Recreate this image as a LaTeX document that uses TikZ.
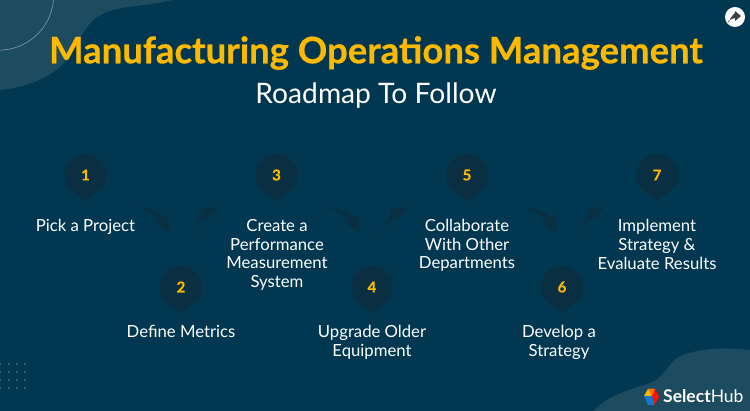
\documentclass[tikz,border=0pt]{standalone}
\usepackage{fontspec}
\setmainfont{Lato}
\newfontfamily\titlefont[BoldFeatures={FakeBold=0.5}]{Lato}
\usetikzlibrary{calc}

\definecolor{bgblue}{HTML}{013750}
\definecolor{blobblue}{HTML}{1D4B60}
\definecolor{pindark}{HTML}{0A2F42}
\definecolor{titleyellow}{HTML}{FDB900}
\definecolor{swooshdark}{HTML}{0A2F42}

\tikzset{
    pinmark/.style={circle, fill=pindark, minimum size=42pt, inner sep=0pt, text=titleyellow, font=\fontsize{15}{15}\titlefont\bfseries},
    steptext/.style={text=white, align=center, inner sep=0pt, font=\fontsize{16.7}{18.6}\selectfont},
    swoosh/.style={fill=swooshdark}
}

\newcommand{\swooshdown}[2]{
    \fill[swoosh] (#1) .. controls +(11,1) and +(-6,-5) .. ($(#2)+(-5,-15)$) -- ($(#2)+(-2,-18)$) -- (#2) -- ($(#2)+(-15,-10)$) -- ($(#2)+(-10,-10)$) .. controls +(-4,-7) and +(8,3) .. (#1) -- cycle;
}
\newcommand{\swooshup}[2]{
    \fill[swoosh] (#1) .. controls +(0,-10) and +(-5,6) .. ($(#2)+(-15,7)$) -- ($(#2)+(-17,2)$) -- (#2) -- ($(#2)+(-9,13)$) -- ($(#2)+(-11,10)$) .. controls +(-7,5) and +(-3,-10) .. (#1) -- cycle;
}

\begin{document}
\begin{tikzpicture}[x=1pt, y=-1pt]
    \useasboundingbox (0,0) rectangle (750,411);
    \fill[bgblue] (0,0) rectangle (750,411);

    % background blobs
    \fill[blobblue] (0,0) -- (172,0) .. controls (150,6) and (120,6) .. (107,12) .. controls (92,18) and (88,26) .. (83,33) .. controls (75,45) and (70,58) .. (60,67) .. controls (45,80) and (22,88) .. (0,90) -- cycle;
    \fill[blobblue] (593,411) .. controls (600,405) and (605,400) .. (612,397) .. controls (622,392) and (635,388) .. (650,383) .. controls (662,379) and (668,365) .. (677,358) .. controls (690,350) and (720,346) .. (750,350) -- (750,411) -- cycle;
    \draw[color=blobblue!60!white, line width=0.7pt] (53.5,0) arc[start angle=5, end angle=90, radius=55];

    \foreach \x in {0,9,17,25} \foreach \y in {364,372,380,388}
        \fill[blobblue!90!white] (\x-1,\y-1) rectangle (\x+1,\y+1);

    % title
    \node[text=titleyellow, font=\fontsize{36.5}{37}\titlefont\bfseries] (title) at (376,53) {Manufacturing Operations Management};
    \node[text=white, font=\fontsize{28.2}{28}\selectfont] (subtitle) at (376,96) {Roadmap To Follow};

    % share icon
    \node[circle, fill=white, minimum size=20pt, inner sep=0pt] (share) at (735,17) {};
    \fill[black!75] ($(share)+(-6,5)$) .. controls +(1,-5) and +(3,-6) .. ($(share)+(0,-2)$) -- ($(share)+(0,-6)$) -- ($(share)+(6,-1)$) -- ($(share)+(0,4)$) -- ($(share)+(0,1)$) .. controls +(-3,0) and +(-4,1) .. ($(share)+(-6,5)$) -- cycle;

    % steps
    \foreach \n/\x/\y in {1/85.5/175,2/181/287,3/276.5/175,4/372/287,5/467/175,6/562/287,7/657/175} {
        \fill[pindark] (\x-9,\y+18) -- (\x,\y+27) -- (\x+9,\y+18) -- cycle;
        \node[pinmark] (pin\n) at (\x,\y) {\n};
    }

    \node[steptext] (text1) at (85.5,227) {Pick a Project};
    \node[steptext] (text2) at (181,331) {Define Metrics};
    \node[steptext] (text3) at (277,255) {Create a\\Performance\\Measurement\\System};
    \node[steptext] (text4) at (372,342.5) {Upgrade Older\\Equipment};
    \node[steptext] (text5) at (467,245.5) {Collaborate\\With Other\\Departments};
    \node[steptext] (text6) at (559,342.5) {Develop a\\Strategy};
    \node[steptext] (text7) at (657,244.5) {Implement\\Strategy \&\\Evaluate Results};

    % arrows between steps
    \coordinate (a12) at (138,207);
    \coordinate (b12) at (170,233);
    \coordinate (a23) at (192,240);
    \coordinate (b23) at (217,207);
    \coordinate (a34) at (328,207);
    \coordinate (b34) at (360,233);
    \coordinate (a45) at (381,240);
    \coordinate (b45) at (407,207);
    \coordinate (a56) at (525,207);
    \coordinate (b56) at (557,233);
    \coordinate (a67) at (579,240);
    \coordinate (b67) at (604,207);
    \swooshdown{a12}{b12}
    \swooshup{a23}{b23}
    \swooshdown{a34}{b34}
    \swooshup{a45}{b45}
    \swooshdown{a56}{b56}
    \swooshup{a67}{b67}

    % logo
    \coordinate (cube) at (651,397);
    \fill[titleyellow] ($(cube)+(-7,-1)$) -- ($(cube)+(-3,-8)$) -- ($(cube)+(4,-8)$) -- ($(cube)+(1,-1)$) -- cycle;
    \fill[orange!90!red] ($(cube)+(-3,-8)$) -- ($(cube)+(4,-8)$) -- ($(cube)+(1,-1)$) -- cycle;
    \fill[red!85!orange] ($(cube)+(4,-8)$) -- ($(cube)+(8,0)$) -- ($(cube)+(3,8)$) -- ($(cube)+(1,-1)$) -- cycle;
    \fill[cyan!60!blue] ($(cube)+(-7,-1)$) -- ($(cube)+(1,-1)$) -- ($(cube)+(3,8)$) -- ($(cube)+(-3,8)$) -- cycle;
    \node[text=white, font=\fontsize{17.5}{17.5}\selectfont, inner sep=0pt, anchor=base west] (logo) at (663,403) {\textbf{Select}Hub};
\end{tikzpicture}
\end{document}
